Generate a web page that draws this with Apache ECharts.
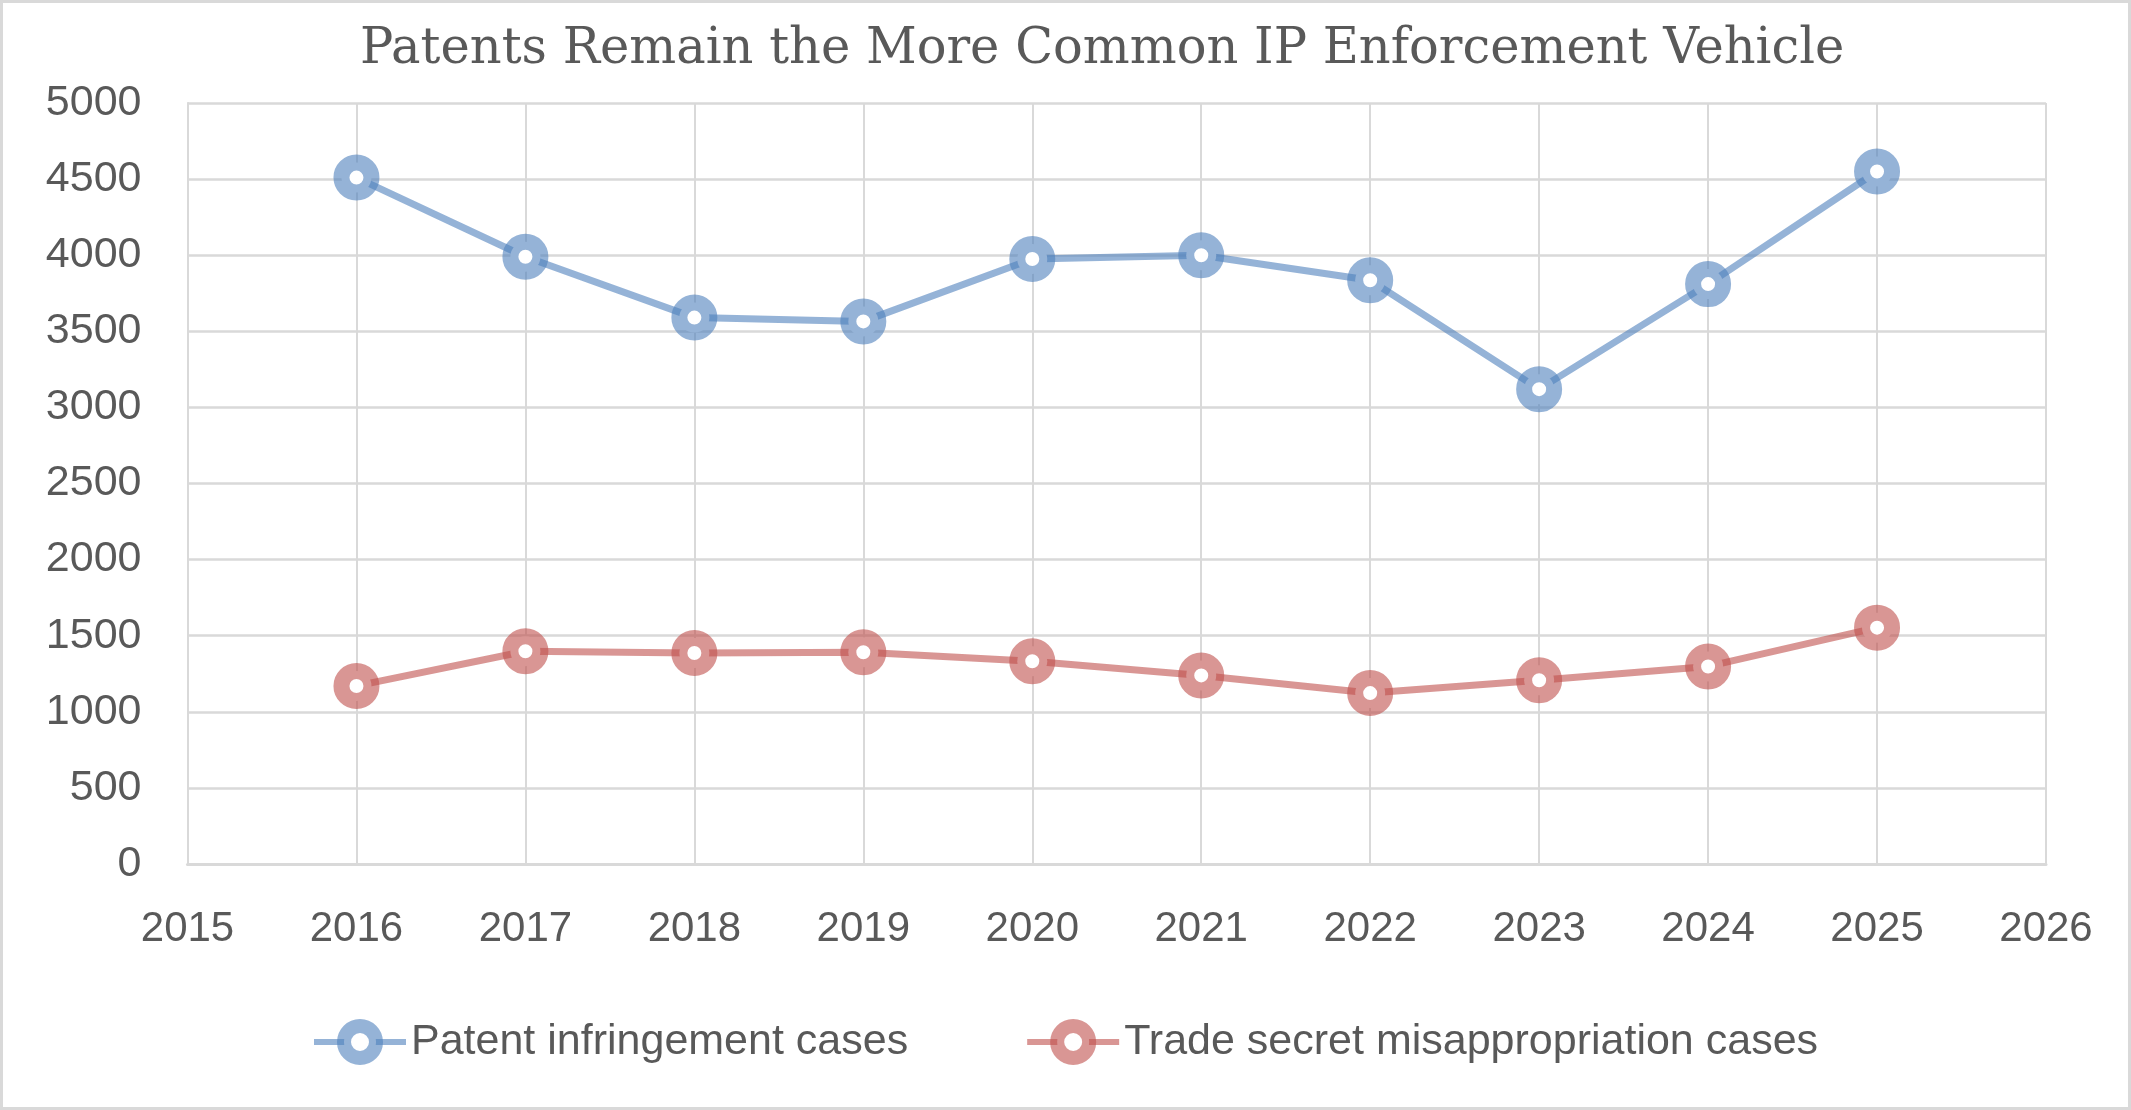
<!DOCTYPE html>
<html>
<head>
<meta charset="utf-8">
<script src="https://cdn.jsdelivr.net/npm/echarts@6/dist/echarts.min.js"></script>
<style>
html,body{margin:0;padding:0;background:#fff;}
#c{width:2131px;height:1110px;}
</style>
</head>
<body>
<div id="c"></div>
<script>
const years = [2016, 2017, 2018, 2019, 2020, 2021, 2022, 2023, 2024, 2025];
const patentCases = [4510, 3990, 3590, 3565, 3975, 4000, 3835, 3120, 3810, 4550];
const tradeSecretCases = [1170, 1398, 1386, 1391, 1332, 1239, 1123, 1207, 1298, 1553];
const seriesNames = ['Patent infringement cases', 'Trade secret misappropriation cases'];
const titleText = 'Patents Remain the More Common IP Enforcement Vehicle';

const chart = echarts.init(document.getElementById('c'));
const gridColor = '#d9d9d9';
const textColor = '#595959';
const blue = 'rgba(79,129,189,0.6)';
const red = 'rgba(192,80,77,0.6)';

function pairs(vals){ return years.map((y,i)=>[y, vals[i]]); }

function mkSeries(name, vals, color){
  return {
    name: name,
    type: 'line',
    data: pairs(vals),
    symbol: 'circle',
    symbolSize: 30,
    lineStyle: {color: color, width: 7},
    itemStyle: {color: '#ffffff', borderColor: color, borderWidth: 16},
    emphasis: {disabled: true},
    z: 3
  };
}

chart.setOption({
  animation: false,
  backgroundColor: '#ffffff',
  title: {
    text: titleText,
    left: 355,
    top: 20,
    textStyle: {fontFamily: 'DejaVu Serif', fontSize: 49.5, fontWeight: 'normal', color: textColor}
  },
  graphic: [{
    type: 'rect',
    shape: {x: 1.5, y: 1.5, width: 2128, height: 1107},
    style: {fill: 'none', stroke: gridColor, lineWidth: 3},
    silent: true
  }],
  grid: {left: 187.5, right: 85, top: 103, bottom: 246, containLabel: false},
  xAxis: {
    type: 'value',
    min: 2015, max: 2026, interval: 1,
    axisLine: {show: true, lineStyle: {color: gridColor, width: 3}},
    axisTick: {show: false},
    splitLine: {show: true, lineStyle: {color: gridColor, width: 2}},
    axisLabel: {color: textColor, fontFamily: 'Liberation Sans', fontSize: 42, margin: 44, formatter: v => String(v)}
  },
  yAxis: {
    type: 'value',
    min: 0, max: 5000, interval: 500,
    axisLine: {show: true, lineStyle: {color: gridColor, width: 2}},
    axisTick: {show: false},
    splitLine: {show: true, lineStyle: {color: gridColor, width: 2.5}},
    axisLabel: {color: textColor, fontFamily: 'Liberation Sans', fontSize: 43, margin: 46, formatter: v => String(v)}
  },
  legend: {
    data: [
      {name: seriesNames[0], itemStyle: {color: '#ffffff', borderColor: blue, borderWidth: 14}, lineStyle: {color: blue, width: 6}},
      {name: seriesNames[1], itemStyle: {color: '#ffffff', borderColor: red, borderWidth: 14}, lineStyle: {color: red, width: 6}}
    ],
    left: 306,
    top: 1014,
    itemWidth: 92,
    itemHeight: 40,
    itemGap: 116,
    textStyle: {color: textColor, fontFamily: 'Liberation Sans', fontSize: 43},
    selectedMode: false
  },
  series: [
    mkSeries(seriesNames[0], patentCases, blue),
    mkSeries(seriesNames[1], tradeSecretCases, red)
  ]
});
</script>
</body>
</html>
